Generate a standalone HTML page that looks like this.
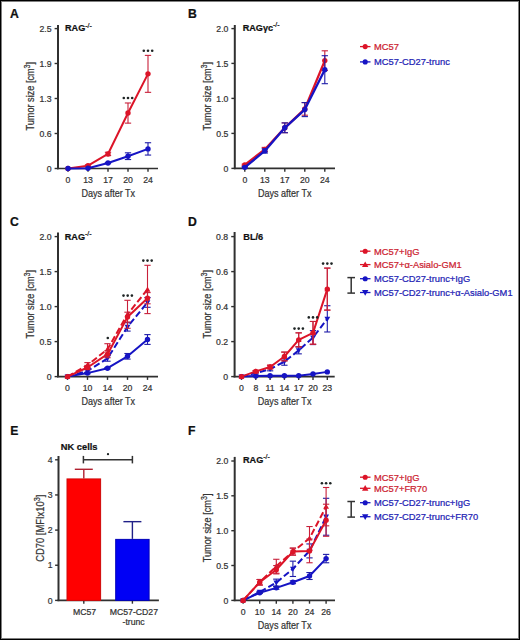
<!DOCTYPE html>
<html><head><meta charset="utf-8"><style>
html,body{margin:0;padding:0;background:#fff;}
#fig{position:relative;width:520px;height:640px;box-sizing:border-box;border-style:solid;border-color:#000;border-width:1px;box-shadow:inset 0 0 0 1px #808080;background:#fff;overflow:hidden;}
text{stroke-width:0.22px;} svg{position:absolute;left:-1px;top:-1px;font-family:"Liberation Sans", sans-serif;}
</style></head><body><div id="fig"><svg width="520" height="640" viewBox="0 0 520 640">
<text x="10.00" y="17.60" font-size="12.2" text-anchor="start" font-weight="bold" fill="#111" stroke="#111" >A</text>
<line x1="58.00" y1="25.00" x2="58.00" y2="169.25" stroke="#303030" stroke-width="2.0" />
<line x1="54.60" y1="168.50" x2="58.00" y2="168.50" stroke="#303030" stroke-width="1.4" />
<text x="51.60" y="171.60" font-size="8.7" text-anchor="end" font-weight="normal" fill="#333" stroke="#333" >0</text>
<line x1="54.60" y1="133.50" x2="58.00" y2="133.50" stroke="#303030" stroke-width="1.4" />
<text x="51.60" y="136.60" font-size="8.7" text-anchor="end" font-weight="normal" fill="#333" stroke="#333" >0.6</text>
<line x1="54.60" y1="98.50" x2="58.00" y2="98.50" stroke="#303030" stroke-width="1.4" />
<text x="51.60" y="101.60" font-size="8.7" text-anchor="end" font-weight="normal" fill="#333" stroke="#333" >1.3</text>
<line x1="54.60" y1="63.50" x2="58.00" y2="63.50" stroke="#303030" stroke-width="1.4" />
<text x="51.60" y="66.60" font-size="8.7" text-anchor="end" font-weight="normal" fill="#333" stroke="#333" >1.9</text>
<line x1="54.60" y1="28.60" x2="58.00" y2="28.60" stroke="#303030" stroke-width="1.4" />
<text x="51.60" y="31.70" font-size="8.7" text-anchor="end" font-weight="normal" fill="#333" stroke="#333" >2.5</text>
<line x1="57.00" y1="168.50" x2="158.00" y2="168.50" stroke="#303030" stroke-width="1.6" />
<line x1="68.00" y1="168.50" x2="68.00" y2="171.80" stroke="#303030" stroke-width="1.4" />
<text x="68.00" y="183.20" font-size="8.7" text-anchor="middle" font-weight="normal" fill="#333" stroke="#333" >0</text>
<line x1="88.00" y1="168.50" x2="88.00" y2="171.80" stroke="#303030" stroke-width="1.4" />
<text x="88.00" y="183.20" font-size="8.7" text-anchor="middle" font-weight="normal" fill="#333" stroke="#333" >13</text>
<line x1="108.00" y1="168.50" x2="108.00" y2="171.80" stroke="#303030" stroke-width="1.4" />
<text x="108.00" y="183.20" font-size="8.7" text-anchor="middle" font-weight="normal" fill="#333" stroke="#333" >17</text>
<line x1="128.00" y1="168.50" x2="128.00" y2="171.80" stroke="#303030" stroke-width="1.4" />
<text x="128.00" y="183.20" font-size="8.7" text-anchor="middle" font-weight="normal" fill="#333" stroke="#333" >20</text>
<line x1="148.00" y1="168.50" x2="148.00" y2="171.80" stroke="#303030" stroke-width="1.4" />
<text x="148.00" y="183.20" font-size="8.7" text-anchor="middle" font-weight="normal" fill="#333" stroke="#333" >24</text>
<text transform="translate(33.70,96.20) rotate(-90)" x="0" y="0" font-size="10.6" text-anchor="middle" fill="#333" stroke="#333" textLength="68.6" lengthAdjust="spacingAndGlyphs">Tumor size [cm<tspan font-size="8.2" dy="-3.8">3</tspan><tspan dy="3.8">]</tspan></text>
<text x="108.30" y="197.10" font-size="10.6" text-anchor="middle" fill="#333" stroke="#333" textLength="53.6" lengthAdjust="spacingAndGlyphs">Days after Tx</text>
<text x="65.00" y="31.40" font-size="9.1" font-weight="bold" fill="#111" stroke="#111">RAG<tspan font-size="7" dy="-3.9" font-weight="normal">-/-</tspan></text>
<line x1="88.00" y1="166.54" x2="88.00" y2="164.86" stroke="#c8203a" stroke-width="1.1" />
<line x1="84.85" y1="166.54" x2="91.15" y2="166.54" stroke="#c8203a" stroke-width="1.1" />
<line x1="84.85" y1="164.86" x2="91.15" y2="164.86" stroke="#c8203a" stroke-width="1.1" />
<line x1="108.00" y1="155.62" x2="108.00" y2="152.26" stroke="#c8203a" stroke-width="1.1" />
<line x1="104.85" y1="155.62" x2="111.15" y2="155.62" stroke="#c8203a" stroke-width="1.1" />
<line x1="104.85" y1="152.26" x2="111.15" y2="152.26" stroke="#c8203a" stroke-width="1.1" />
<line x1="128.00" y1="123.14" x2="128.00" y2="102.98" stroke="#c8203a" stroke-width="1.1" />
<line x1="124.85" y1="123.14" x2="131.15" y2="123.14" stroke="#c8203a" stroke-width="1.1" />
<line x1="124.85" y1="102.98" x2="131.15" y2="102.98" stroke="#c8203a" stroke-width="1.1" />
<line x1="148.00" y1="92.34" x2="148.00" y2="55.38" stroke="#c8203a" stroke-width="1.1" />
<line x1="144.85" y1="92.34" x2="151.15" y2="92.34" stroke="#c8203a" stroke-width="1.1" />
<line x1="144.85" y1="55.38" x2="151.15" y2="55.38" stroke="#c8203a" stroke-width="1.1" />
<polyline points="68.00,168.50 88.00,165.70 108.00,153.94 128.00,113.06 148.00,73.86" fill="none" stroke="#dc1428" stroke-width="2.0" stroke-linejoin="round"/>
<circle cx="68.00" cy="168.50" r="2.70" fill="#dc1428"/>
<circle cx="88.00" cy="165.70" r="2.70" fill="#dc1428"/>
<circle cx="108.00" cy="153.94" r="2.70" fill="#dc1428"/>
<circle cx="128.00" cy="113.06" r="2.70" fill="#dc1428"/>
<circle cx="148.00" cy="73.86" r="2.70" fill="#dc1428"/>
<line x1="108.00" y1="163.63" x2="108.00" y2="162.51" stroke="#1e1ca8" stroke-width="1.1" />
<line x1="104.85" y1="163.63" x2="111.15" y2="163.63" stroke="#1e1ca8" stroke-width="1.1" />
<line x1="104.85" y1="162.51" x2="111.15" y2="162.51" stroke="#1e1ca8" stroke-width="1.1" />
<line x1="128.00" y1="159.54" x2="128.00" y2="152.82" stroke="#1e1ca8" stroke-width="1.1" />
<line x1="124.85" y1="159.54" x2="131.15" y2="159.54" stroke="#1e1ca8" stroke-width="1.1" />
<line x1="124.85" y1="152.82" x2="131.15" y2="152.82" stroke="#1e1ca8" stroke-width="1.1" />
<line x1="148.00" y1="155.06" x2="148.00" y2="142.74" stroke="#1e1ca8" stroke-width="1.1" />
<line x1="144.85" y1="155.06" x2="151.15" y2="155.06" stroke="#1e1ca8" stroke-width="1.1" />
<line x1="144.85" y1="142.74" x2="151.15" y2="142.74" stroke="#1e1ca8" stroke-width="1.1" />
<polyline points="68.00,168.50 88.00,168.22 108.00,163.07 128.00,156.18 148.00,148.90" fill="none" stroke="#1614c4" stroke-width="2.0" stroke-linejoin="round"/>
<circle cx="68.00" cy="168.50" r="2.70" fill="#1614c4"/>
<circle cx="88.00" cy="168.22" r="2.70" fill="#1614c4"/>
<circle cx="108.00" cy="163.07" r="2.70" fill="#1614c4"/>
<circle cx="128.00" cy="156.18" r="2.70" fill="#1614c4"/>
<circle cx="148.00" cy="148.90" r="2.70" fill="#1614c4"/>
<circle cx="123.80" cy="98.00" r="1.3" fill="#1e2424"/>
<circle cx="128.00" cy="98.00" r="1.3" fill="#1e2424"/>
<circle cx="132.20" cy="98.00" r="1.3" fill="#1e2424"/>
<circle cx="143.80" cy="50.80" r="1.3" fill="#1e2424"/>
<circle cx="148.00" cy="50.80" r="1.3" fill="#1e2424"/>
<circle cx="152.20" cy="50.80" r="1.3" fill="#1e2424"/>
<text x="188.00" y="17.60" font-size="12.2" text-anchor="start" font-weight="bold" fill="#111" stroke="#111" >B</text>
<line x1="234.80" y1="25.00" x2="234.80" y2="169.15" stroke="#303030" stroke-width="2.0" />
<line x1="231.40" y1="168.40" x2="234.80" y2="168.40" stroke="#303030" stroke-width="1.4" />
<text x="228.40" y="171.50" font-size="8.7" text-anchor="end" font-weight="normal" fill="#333" stroke="#333" >0</text>
<line x1="231.40" y1="133.40" x2="234.80" y2="133.40" stroke="#303030" stroke-width="1.4" />
<text x="228.40" y="136.50" font-size="8.7" text-anchor="end" font-weight="normal" fill="#333" stroke="#333" >0.5</text>
<line x1="231.40" y1="98.40" x2="234.80" y2="98.40" stroke="#303030" stroke-width="1.4" />
<text x="228.40" y="101.50" font-size="8.7" text-anchor="end" font-weight="normal" fill="#333" stroke="#333" >1.0</text>
<line x1="231.40" y1="63.40" x2="234.80" y2="63.40" stroke="#303030" stroke-width="1.4" />
<text x="228.40" y="66.50" font-size="8.7" text-anchor="end" font-weight="normal" fill="#333" stroke="#333" >1.5</text>
<line x1="231.40" y1="28.60" x2="234.80" y2="28.60" stroke="#303030" stroke-width="1.4" />
<text x="228.40" y="31.70" font-size="8.7" text-anchor="end" font-weight="normal" fill="#333" stroke="#333" >2.0</text>
<line x1="233.80" y1="168.40" x2="335.00" y2="168.40" stroke="#303030" stroke-width="1.6" />
<line x1="244.80" y1="168.40" x2="244.80" y2="171.70" stroke="#303030" stroke-width="1.4" />
<text x="244.80" y="183.20" font-size="8.7" text-anchor="middle" font-weight="normal" fill="#333" stroke="#333" >0</text>
<line x1="264.80" y1="168.40" x2="264.80" y2="171.70" stroke="#303030" stroke-width="1.4" />
<text x="264.80" y="183.20" font-size="8.7" text-anchor="middle" font-weight="normal" fill="#333" stroke="#333" >13</text>
<line x1="284.80" y1="168.40" x2="284.80" y2="171.70" stroke="#303030" stroke-width="1.4" />
<text x="284.80" y="183.20" font-size="8.7" text-anchor="middle" font-weight="normal" fill="#333" stroke="#333" >17</text>
<line x1="304.80" y1="168.40" x2="304.80" y2="171.70" stroke="#303030" stroke-width="1.4" />
<text x="304.80" y="183.20" font-size="8.7" text-anchor="middle" font-weight="normal" fill="#333" stroke="#333" >20</text>
<line x1="324.80" y1="168.40" x2="324.80" y2="171.70" stroke="#303030" stroke-width="1.4" />
<text x="324.80" y="183.20" font-size="8.7" text-anchor="middle" font-weight="normal" fill="#333" stroke="#333" >24</text>
<text transform="translate(210.50,96.20) rotate(-90)" x="0" y="0" font-size="10.6" text-anchor="middle" fill="#333" stroke="#333" textLength="68.6" lengthAdjust="spacingAndGlyphs">Tumor size [cm<tspan font-size="8.2" dy="-3.8">3</tspan><tspan dy="3.8">]</tspan></text>
<text x="284.70" y="197.10" font-size="10.6" text-anchor="middle" fill="#333" stroke="#333" textLength="53.6" lengthAdjust="spacingAndGlyphs">Days after Tx</text>
<text x="242.70" y="30.70" font-size="9.1" font-weight="bold" fill="#111" stroke="#111">RAG&#947;c<tspan font-size="7" dy="-3.9" font-weight="normal">-/-</tspan></text>
<line x1="244.80" y1="165.60" x2="244.80" y2="164.20" stroke="#c8203a" stroke-width="1.1" />
<line x1="241.65" y1="165.60" x2="247.95" y2="165.60" stroke="#c8203a" stroke-width="1.1" />
<line x1="241.65" y1="164.20" x2="247.95" y2="164.20" stroke="#c8203a" stroke-width="1.1" />
<line x1="264.80" y1="151.60" x2="264.80" y2="147.40" stroke="#c8203a" stroke-width="1.1" />
<line x1="261.65" y1="151.60" x2="267.95" y2="151.60" stroke="#c8203a" stroke-width="1.1" />
<line x1="261.65" y1="147.40" x2="267.95" y2="147.40" stroke="#c8203a" stroke-width="1.1" />
<line x1="284.80" y1="132.70" x2="284.80" y2="122.90" stroke="#c8203a" stroke-width="1.1" />
<line x1="281.65" y1="132.70" x2="287.95" y2="132.70" stroke="#c8203a" stroke-width="1.1" />
<line x1="281.65" y1="122.90" x2="287.95" y2="122.90" stroke="#c8203a" stroke-width="1.1" />
<line x1="304.80" y1="115.20" x2="304.80" y2="102.60" stroke="#c8203a" stroke-width="1.1" />
<line x1="301.65" y1="115.20" x2="307.95" y2="115.20" stroke="#c8203a" stroke-width="1.1" />
<line x1="301.65" y1="102.60" x2="307.95" y2="102.60" stroke="#c8203a" stroke-width="1.1" />
<line x1="324.80" y1="70.40" x2="324.80" y2="50.80" stroke="#c8203a" stroke-width="1.1" />
<line x1="321.65" y1="70.40" x2="327.95" y2="70.40" stroke="#c8203a" stroke-width="1.1" />
<line x1="321.65" y1="50.80" x2="327.95" y2="50.80" stroke="#c8203a" stroke-width="1.1" />
<polyline points="244.80,164.90 264.80,149.50 284.80,127.80 304.80,108.90 324.80,60.60" fill="none" stroke="#dc1428" stroke-width="2.3" stroke-linejoin="round"/>
<circle cx="244.80" cy="164.90" r="2.70" fill="#dc1428"/>
<circle cx="264.80" cy="149.50" r="2.70" fill="#dc1428"/>
<circle cx="284.80" cy="127.80" r="2.70" fill="#dc1428"/>
<circle cx="304.80" cy="108.90" r="2.70" fill="#dc1428"/>
<circle cx="324.80" cy="60.60" r="2.70" fill="#dc1428"/>
<line x1="244.80" y1="168.05" x2="244.80" y2="166.65" stroke="#1e1ca8" stroke-width="1.1" />
<line x1="241.65" y1="168.05" x2="247.95" y2="168.05" stroke="#1e1ca8" stroke-width="1.1" />
<line x1="241.65" y1="166.65" x2="247.95" y2="166.65" stroke="#1e1ca8" stroke-width="1.1" />
<line x1="264.80" y1="153.00" x2="264.80" y2="148.80" stroke="#1e1ca8" stroke-width="1.1" />
<line x1="261.65" y1="153.00" x2="267.95" y2="153.00" stroke="#1e1ca8" stroke-width="1.1" />
<line x1="261.65" y1="148.80" x2="267.95" y2="148.80" stroke="#1e1ca8" stroke-width="1.1" />
<line x1="284.80" y1="132.70" x2="284.80" y2="122.90" stroke="#1e1ca8" stroke-width="1.1" />
<line x1="281.65" y1="132.70" x2="287.95" y2="132.70" stroke="#1e1ca8" stroke-width="1.1" />
<line x1="281.65" y1="122.90" x2="287.95" y2="122.90" stroke="#1e1ca8" stroke-width="1.1" />
<line x1="304.80" y1="116.60" x2="304.80" y2="102.60" stroke="#1e1ca8" stroke-width="1.1" />
<line x1="301.65" y1="116.60" x2="307.95" y2="116.60" stroke="#1e1ca8" stroke-width="1.1" />
<line x1="301.65" y1="102.60" x2="307.95" y2="102.60" stroke="#1e1ca8" stroke-width="1.1" />
<line x1="324.80" y1="83.70" x2="324.80" y2="55.70" stroke="#1e1ca8" stroke-width="1.1" />
<line x1="321.65" y1="83.70" x2="327.95" y2="83.70" stroke="#1e1ca8" stroke-width="1.1" />
<line x1="321.65" y1="55.70" x2="327.95" y2="55.70" stroke="#1e1ca8" stroke-width="1.1" />
<polyline points="244.80,167.35 264.80,150.90 284.80,127.80 304.80,109.60 324.80,69.70" fill="none" stroke="#1614c4" stroke-width="2.3" stroke-linejoin="round"/>
<circle cx="244.80" cy="167.35" r="2.70" fill="#1614c4"/>
<circle cx="264.80" cy="150.90" r="2.70" fill="#1614c4"/>
<circle cx="284.80" cy="127.80" r="2.70" fill="#1614c4"/>
<circle cx="304.80" cy="109.60" r="2.70" fill="#1614c4"/>
<circle cx="324.80" cy="69.70" r="2.70" fill="#1614c4"/>
<line x1="360.00" y1="46.60" x2="370.50" y2="46.60" stroke="#dc1428" stroke-width="1.3" />
<circle cx="365.20" cy="46.60" r="2.56" fill="#dc1428"/>
<text x="374.00" y="49.90" font-size="9.35" text-anchor="start" font-weight="normal" fill="#cc2230" stroke="#cc2230" >MC57</text>
<line x1="360.00" y1="61.90" x2="370.50" y2="61.90" stroke="#1614c4" stroke-width="1.3" />
<circle cx="365.20" cy="61.90" r="2.56" fill="#1614c4"/>
<text x="374.00" y="65.20" font-size="9.35" text-anchor="start" font-weight="normal" fill="#2222b4" stroke="#2222b4" >MC57-CD27-trunc</text>
<text x="10.00" y="225.80" font-size="12.2" text-anchor="start" font-weight="bold" fill="#111" stroke="#111" >C</text>
<line x1="58.00" y1="232.60" x2="58.00" y2="377.35" stroke="#303030" stroke-width="2.0" />
<line x1="54.60" y1="376.60" x2="58.00" y2="376.60" stroke="#303030" stroke-width="1.4" />
<text x="51.60" y="379.70" font-size="8.7" text-anchor="end" font-weight="normal" fill="#333" stroke="#333" >0</text>
<line x1="54.60" y1="341.60" x2="58.00" y2="341.60" stroke="#303030" stroke-width="1.4" />
<text x="51.60" y="344.70" font-size="8.7" text-anchor="end" font-weight="normal" fill="#333" stroke="#333" >0.5</text>
<line x1="54.60" y1="306.60" x2="58.00" y2="306.60" stroke="#303030" stroke-width="1.4" />
<text x="51.60" y="309.70" font-size="8.7" text-anchor="end" font-weight="normal" fill="#333" stroke="#333" >1.0</text>
<line x1="54.60" y1="271.60" x2="58.00" y2="271.60" stroke="#303030" stroke-width="1.4" />
<text x="51.60" y="274.70" font-size="8.7" text-anchor="end" font-weight="normal" fill="#333" stroke="#333" >1.5</text>
<line x1="54.60" y1="236.60" x2="58.00" y2="236.60" stroke="#303030" stroke-width="1.4" />
<text x="51.60" y="239.70" font-size="8.7" text-anchor="end" font-weight="normal" fill="#333" stroke="#333" >2.0</text>
<line x1="57.00" y1="376.60" x2="158.00" y2="376.60" stroke="#303030" stroke-width="1.6" />
<line x1="67.50" y1="376.60" x2="67.50" y2="379.90" stroke="#303030" stroke-width="1.4" />
<text x="67.50" y="391.30" font-size="8.7" text-anchor="middle" font-weight="normal" fill="#333" stroke="#333" >0</text>
<line x1="87.50" y1="376.60" x2="87.50" y2="379.90" stroke="#303030" stroke-width="1.4" />
<text x="87.50" y="391.30" font-size="8.7" text-anchor="middle" font-weight="normal" fill="#333" stroke="#333" >10</text>
<line x1="107.50" y1="376.60" x2="107.50" y2="379.90" stroke="#303030" stroke-width="1.4" />
<text x="107.50" y="391.30" font-size="8.7" text-anchor="middle" font-weight="normal" fill="#333" stroke="#333" >14</text>
<line x1="127.50" y1="376.60" x2="127.50" y2="379.90" stroke="#303030" stroke-width="1.4" />
<text x="127.50" y="391.30" font-size="8.7" text-anchor="middle" font-weight="normal" fill="#333" stroke="#333" >20</text>
<line x1="147.50" y1="376.60" x2="147.50" y2="379.90" stroke="#303030" stroke-width="1.4" />
<text x="147.50" y="391.30" font-size="8.7" text-anchor="middle" font-weight="normal" fill="#333" stroke="#333" >24</text>
<text transform="translate(33.70,304.20) rotate(-90)" x="0" y="0" font-size="10.6" text-anchor="middle" fill="#333" stroke="#333" textLength="68.6" lengthAdjust="spacingAndGlyphs">Tumor size [cm<tspan font-size="8.2" dy="-3.8">3</tspan><tspan dy="3.8">]</tspan></text>
<text x="108.30" y="405.40" font-size="10.6" text-anchor="middle" fill="#333" stroke="#333" textLength="53.6" lengthAdjust="spacingAndGlyphs">Days after Tx</text>
<text x="64.80" y="239.60" font-size="9.1" font-weight="bold" fill="#111" stroke="#111">RAG<tspan font-size="7" dy="-3.9" font-weight="normal">-/-</tspan></text>
<line x1="87.50" y1="372.40" x2="87.50" y2="369.60" stroke="#1e1ca8" stroke-width="1.1" />
<line x1="84.35" y1="372.40" x2="90.65" y2="372.40" stroke="#1e1ca8" stroke-width="1.1" />
<line x1="84.35" y1="369.60" x2="90.65" y2="369.60" stroke="#1e1ca8" stroke-width="1.1" />
<line x1="107.50" y1="361.20" x2="107.50" y2="355.60" stroke="#1e1ca8" stroke-width="1.1" />
<line x1="104.35" y1="361.20" x2="110.65" y2="361.20" stroke="#1e1ca8" stroke-width="1.1" />
<line x1="104.35" y1="355.60" x2="110.65" y2="355.60" stroke="#1e1ca8" stroke-width="1.1" />
<line x1="127.50" y1="331.10" x2="127.50" y2="322.70" stroke="#1e1ca8" stroke-width="1.1" />
<line x1="124.35" y1="331.10" x2="130.65" y2="331.10" stroke="#1e1ca8" stroke-width="1.1" />
<line x1="124.35" y1="322.70" x2="130.65" y2="322.70" stroke="#1e1ca8" stroke-width="1.1" />
<line x1="147.50" y1="307.30" x2="147.50" y2="297.50" stroke="#1e1ca8" stroke-width="1.1" />
<line x1="144.35" y1="307.30" x2="150.65" y2="307.30" stroke="#1e1ca8" stroke-width="1.1" />
<line x1="144.35" y1="297.50" x2="150.65" y2="297.50" stroke="#1e1ca8" stroke-width="1.1" />
<polyline points="67.50,376.60 87.50,371.00 107.50,358.40 127.50,326.90 147.50,302.40" fill="none" stroke="#1614c4" stroke-width="2.0" stroke-linejoin="round" stroke-dasharray="6.5,3"/>
<polygon points="67.50,379.50 70.40,374.43 64.60,374.43" fill="#1614c4"/>
<polygon points="87.50,373.90 90.40,368.82 84.60,368.82" fill="#1614c4"/>
<polygon points="107.50,361.30 110.40,356.23 104.60,356.23" fill="#1614c4"/>
<polygon points="127.50,329.80 130.40,324.73 124.60,324.73" fill="#1614c4"/>
<polygon points="147.50,305.30 150.40,300.23 144.60,300.23" fill="#1614c4"/>
<line x1="87.50" y1="373.80" x2="87.50" y2="372.40" stroke="#1e1ca8" stroke-width="1.1" />
<line x1="84.35" y1="373.80" x2="90.65" y2="373.80" stroke="#1e1ca8" stroke-width="1.1" />
<line x1="84.35" y1="372.40" x2="90.65" y2="372.40" stroke="#1e1ca8" stroke-width="1.1" />
<line x1="107.50" y1="368.90" x2="107.50" y2="367.50" stroke="#1e1ca8" stroke-width="1.1" />
<line x1="104.35" y1="368.90" x2="110.65" y2="368.90" stroke="#1e1ca8" stroke-width="1.1" />
<line x1="104.35" y1="367.50" x2="110.65" y2="367.50" stroke="#1e1ca8" stroke-width="1.1" />
<line x1="127.50" y1="359.10" x2="127.50" y2="353.50" stroke="#1e1ca8" stroke-width="1.1" />
<line x1="124.35" y1="359.10" x2="130.65" y2="359.10" stroke="#1e1ca8" stroke-width="1.1" />
<line x1="124.35" y1="353.50" x2="130.65" y2="353.50" stroke="#1e1ca8" stroke-width="1.1" />
<line x1="147.50" y1="344.40" x2="147.50" y2="334.60" stroke="#1e1ca8" stroke-width="1.1" />
<line x1="144.35" y1="344.40" x2="150.65" y2="344.40" stroke="#1e1ca8" stroke-width="1.1" />
<line x1="144.35" y1="334.60" x2="150.65" y2="334.60" stroke="#1e1ca8" stroke-width="1.1" />
<polyline points="67.50,376.60 87.50,373.10 107.50,368.20 127.50,356.30 147.50,339.50" fill="none" stroke="#1614c4" stroke-width="2.0" stroke-linejoin="round"/>
<circle cx="67.50" cy="376.60" r="2.70" fill="#1614c4"/>
<circle cx="87.50" cy="373.10" r="2.70" fill="#1614c4"/>
<circle cx="107.50" cy="368.20" r="2.70" fill="#1614c4"/>
<circle cx="127.50" cy="356.30" r="2.70" fill="#1614c4"/>
<circle cx="147.50" cy="339.50" r="2.70" fill="#1614c4"/>
<line x1="87.50" y1="367.50" x2="87.50" y2="362.60" stroke="#c8203a" stroke-width="1.1" />
<line x1="84.35" y1="367.50" x2="90.65" y2="367.50" stroke="#c8203a" stroke-width="1.1" />
<line x1="84.35" y1="362.60" x2="90.65" y2="362.60" stroke="#c8203a" stroke-width="1.1" />
<line x1="107.50" y1="354.90" x2="107.50" y2="343.70" stroke="#c8203a" stroke-width="1.1" />
<line x1="104.35" y1="354.90" x2="110.65" y2="354.90" stroke="#c8203a" stroke-width="1.1" />
<line x1="104.35" y1="343.70" x2="110.65" y2="343.70" stroke="#c8203a" stroke-width="1.1" />
<line x1="127.50" y1="328.30" x2="127.50" y2="300.30" stroke="#c8203a" stroke-width="1.1" />
<line x1="124.35" y1="328.30" x2="130.65" y2="328.30" stroke="#c8203a" stroke-width="1.1" />
<line x1="124.35" y1="300.30" x2="130.65" y2="300.30" stroke="#c8203a" stroke-width="1.1" />
<line x1="147.50" y1="313.60" x2="147.50" y2="265.30" stroke="#c8203a" stroke-width="1.1" />
<line x1="144.35" y1="313.60" x2="150.65" y2="313.60" stroke="#c8203a" stroke-width="1.1" />
<line x1="144.35" y1="265.30" x2="150.65" y2="265.30" stroke="#c8203a" stroke-width="1.1" />
<polyline points="67.50,376.60 87.50,365.05 107.50,349.30 127.50,314.30 147.50,289.45" fill="none" stroke="#dc1428" stroke-width="2.0" stroke-linejoin="round" stroke-dasharray="6.5,3"/>
<polygon points="67.50,373.70 70.40,378.78 64.60,378.78" fill="#dc1428"/>
<polygon points="87.50,362.15 90.40,367.23 84.60,367.23" fill="#dc1428"/>
<polygon points="107.50,346.40 110.40,351.48 104.60,351.48" fill="#dc1428"/>
<polygon points="127.50,311.40 130.40,316.48 124.60,316.48" fill="#dc1428"/>
<polygon points="147.50,286.55 150.40,291.63 144.60,291.63" fill="#dc1428"/>
<line x1="87.50" y1="369.60" x2="87.50" y2="365.40" stroke="#c8203a" stroke-width="1.1" />
<line x1="84.35" y1="369.60" x2="90.65" y2="369.60" stroke="#c8203a" stroke-width="1.1" />
<line x1="84.35" y1="365.40" x2="90.65" y2="365.40" stroke="#c8203a" stroke-width="1.1" />
<line x1="107.50" y1="357.70" x2="107.50" y2="350.70" stroke="#c8203a" stroke-width="1.1" />
<line x1="104.35" y1="357.70" x2="110.65" y2="357.70" stroke="#c8203a" stroke-width="1.1" />
<line x1="104.35" y1="350.70" x2="110.65" y2="350.70" stroke="#c8203a" stroke-width="1.1" />
<line x1="127.50" y1="322.00" x2="127.50" y2="312.20" stroke="#c8203a" stroke-width="1.1" />
<line x1="124.35" y1="322.00" x2="130.65" y2="322.00" stroke="#c8203a" stroke-width="1.1" />
<line x1="124.35" y1="312.20" x2="130.65" y2="312.20" stroke="#c8203a" stroke-width="1.1" />
<line x1="147.50" y1="303.80" x2="147.50" y2="292.60" stroke="#c8203a" stroke-width="1.1" />
<line x1="144.35" y1="303.80" x2="150.65" y2="303.80" stroke="#c8203a" stroke-width="1.1" />
<line x1="144.35" y1="292.60" x2="150.65" y2="292.60" stroke="#c8203a" stroke-width="1.1" />
<polyline points="67.50,376.60 87.50,367.50 107.50,354.20 127.50,317.10 147.50,298.20" fill="none" stroke="#dc1428" stroke-width="2.0" stroke-linejoin="round"/>
<circle cx="67.50" cy="376.60" r="2.70" fill="#dc1428"/>
<circle cx="87.50" cy="367.50" r="2.70" fill="#dc1428"/>
<circle cx="107.50" cy="354.20" r="2.70" fill="#dc1428"/>
<circle cx="127.50" cy="317.10" r="2.70" fill="#dc1428"/>
<circle cx="147.50" cy="298.20" r="2.70" fill="#dc1428"/>
<circle cx="107.80" cy="338.00" r="1.3" fill="#1e2424"/>
<circle cx="123.50" cy="295.60" r="1.3" fill="#1e2424"/>
<circle cx="127.70" cy="295.60" r="1.3" fill="#1e2424"/>
<circle cx="131.90" cy="295.60" r="1.3" fill="#1e2424"/>
<circle cx="143.30" cy="260.60" r="1.3" fill="#1e2424"/>
<circle cx="147.50" cy="260.60" r="1.3" fill="#1e2424"/>
<circle cx="151.70" cy="260.60" r="1.3" fill="#1e2424"/>
<text x="188.00" y="225.80" font-size="12.2" text-anchor="start" font-weight="bold" fill="#111" stroke="#111" >D</text>
<line x1="234.60" y1="232.00" x2="234.60" y2="377.35" stroke="#303030" stroke-width="2.0" />
<line x1="231.20" y1="376.60" x2="234.60" y2="376.60" stroke="#303030" stroke-width="1.4" />
<text x="228.20" y="379.70" font-size="8.7" text-anchor="end" font-weight="normal" fill="#333" stroke="#333" >0</text>
<line x1="231.20" y1="341.60" x2="234.60" y2="341.60" stroke="#303030" stroke-width="1.4" />
<text x="228.20" y="344.70" font-size="8.7" text-anchor="end" font-weight="normal" fill="#333" stroke="#333" >0.2</text>
<line x1="231.20" y1="306.60" x2="234.60" y2="306.60" stroke="#303030" stroke-width="1.4" />
<text x="228.20" y="309.70" font-size="8.7" text-anchor="end" font-weight="normal" fill="#333" stroke="#333" >0.4</text>
<line x1="231.20" y1="271.60" x2="234.60" y2="271.60" stroke="#303030" stroke-width="1.4" />
<text x="228.20" y="274.70" font-size="8.7" text-anchor="end" font-weight="normal" fill="#333" stroke="#333" >0.6</text>
<line x1="231.20" y1="236.60" x2="234.60" y2="236.60" stroke="#303030" stroke-width="1.4" />
<text x="228.20" y="239.70" font-size="8.7" text-anchor="end" font-weight="normal" fill="#333" stroke="#333" >0.8</text>
<line x1="233.60" y1="376.60" x2="334.70" y2="376.60" stroke="#303030" stroke-width="1.6" />
<line x1="241.50" y1="376.60" x2="241.50" y2="379.90" stroke="#303030" stroke-width="1.4" />
<text x="241.50" y="391.30" font-size="8.7" text-anchor="middle" font-weight="normal" fill="#333" stroke="#333" >0</text>
<line x1="255.80" y1="376.60" x2="255.80" y2="379.90" stroke="#303030" stroke-width="1.4" />
<text x="255.80" y="391.30" font-size="8.7" text-anchor="middle" font-weight="normal" fill="#333" stroke="#333" >8</text>
<line x1="270.10" y1="376.60" x2="270.10" y2="379.90" stroke="#303030" stroke-width="1.4" />
<text x="270.10" y="391.30" font-size="8.7" text-anchor="middle" font-weight="normal" fill="#333" stroke="#333" >11</text>
<line x1="284.40" y1="376.60" x2="284.40" y2="379.90" stroke="#303030" stroke-width="1.4" />
<text x="284.40" y="391.30" font-size="8.7" text-anchor="middle" font-weight="normal" fill="#333" stroke="#333" >14</text>
<line x1="298.70" y1="376.60" x2="298.70" y2="379.90" stroke="#303030" stroke-width="1.4" />
<text x="298.70" y="391.30" font-size="8.7" text-anchor="middle" font-weight="normal" fill="#333" stroke="#333" >17</text>
<line x1="313.00" y1="376.60" x2="313.00" y2="379.90" stroke="#303030" stroke-width="1.4" />
<text x="313.00" y="391.30" font-size="8.7" text-anchor="middle" font-weight="normal" fill="#333" stroke="#333" >20</text>
<line x1="327.30" y1="376.60" x2="327.30" y2="379.90" stroke="#303030" stroke-width="1.4" />
<text x="327.30" y="391.30" font-size="8.7" text-anchor="middle" font-weight="normal" fill="#333" stroke="#333" >23</text>
<text transform="translate(210.50,304.20) rotate(-90)" x="0" y="0" font-size="10.6" text-anchor="middle" fill="#333" stroke="#333" textLength="68.6" lengthAdjust="spacingAndGlyphs">Tumor size [cm<tspan font-size="8.2" dy="-3.8">3</tspan><tspan dy="3.8">]</tspan></text>
<text x="284.60" y="405.40" font-size="10.6" text-anchor="middle" fill="#333" stroke="#333" textLength="53.6" lengthAdjust="spacingAndGlyphs">Days after Tx</text>
<text x="243.3" y="239.6" font-size="9.2" font-weight="bold" fill="#111" stroke="#111">BL/6</text>
<polyline points="241.50,376.60 255.80,376.08 270.10,375.73 284.40,375.73 298.70,375.73 313.00,373.98 327.30,371.88" fill="none" stroke="#1614c4" stroke-width="2.0" stroke-linejoin="round"/>
<circle cx="241.50" cy="376.60" r="2.70" fill="#1614c4"/>
<circle cx="255.80" cy="376.08" r="2.70" fill="#1614c4"/>
<circle cx="270.10" cy="375.73" r="2.70" fill="#1614c4"/>
<circle cx="284.40" cy="375.73" r="2.70" fill="#1614c4"/>
<circle cx="298.70" cy="375.73" r="2.70" fill="#1614c4"/>
<circle cx="313.00" cy="373.98" r="2.70" fill="#1614c4"/>
<circle cx="327.30" cy="371.88" r="2.70" fill="#1614c4"/>
<line x1="255.80" y1="373.98" x2="255.80" y2="372.23" stroke="#1e1ca8" stroke-width="1.1" />
<line x1="252.65" y1="373.98" x2="258.95" y2="373.98" stroke="#1e1ca8" stroke-width="1.1" />
<line x1="252.65" y1="372.23" x2="258.95" y2="372.23" stroke="#1e1ca8" stroke-width="1.1" />
<line x1="270.10" y1="370.83" x2="270.10" y2="367.33" stroke="#1e1ca8" stroke-width="1.1" />
<line x1="266.95" y1="370.83" x2="273.25" y2="370.83" stroke="#1e1ca8" stroke-width="1.1" />
<line x1="266.95" y1="367.33" x2="273.25" y2="367.33" stroke="#1e1ca8" stroke-width="1.1" />
<line x1="284.40" y1="365.23" x2="284.40" y2="358.23" stroke="#1e1ca8" stroke-width="1.1" />
<line x1="281.25" y1="365.23" x2="287.55" y2="365.23" stroke="#1e1ca8" stroke-width="1.1" />
<line x1="281.25" y1="358.23" x2="287.55" y2="358.23" stroke="#1e1ca8" stroke-width="1.1" />
<line x1="298.70" y1="353.85" x2="298.70" y2="346.85" stroke="#1e1ca8" stroke-width="1.1" />
<line x1="295.55" y1="353.85" x2="301.85" y2="353.85" stroke="#1e1ca8" stroke-width="1.1" />
<line x1="295.55" y1="346.85" x2="301.85" y2="346.85" stroke="#1e1ca8" stroke-width="1.1" />
<line x1="313.00" y1="344.58" x2="313.00" y2="330.58" stroke="#1e1ca8" stroke-width="1.1" />
<line x1="309.85" y1="344.58" x2="316.15" y2="344.58" stroke="#1e1ca8" stroke-width="1.1" />
<line x1="309.85" y1="330.58" x2="316.15" y2="330.58" stroke="#1e1ca8" stroke-width="1.1" />
<line x1="327.30" y1="331.98" x2="327.30" y2="305.73" stroke="#1e1ca8" stroke-width="1.1" />
<line x1="324.15" y1="331.98" x2="330.45" y2="331.98" stroke="#1e1ca8" stroke-width="1.1" />
<line x1="324.15" y1="305.73" x2="330.45" y2="305.73" stroke="#1e1ca8" stroke-width="1.1" />
<polyline points="241.50,376.60 255.80,373.10 270.10,369.08 284.40,361.73 298.70,350.35 313.00,337.58 327.30,318.85" fill="none" stroke="#1614c4" stroke-width="2.0" stroke-linejoin="round" stroke-dasharray="6.5,3"/>
<polygon points="241.50,379.50 244.40,374.43 238.60,374.43" fill="#1614c4"/>
<polygon points="255.80,376.00 258.70,370.93 252.90,370.93" fill="#1614c4"/>
<polygon points="270.10,371.98 273.00,366.90 267.20,366.90" fill="#1614c4"/>
<polygon points="284.40,364.62 287.30,359.55 281.50,359.55" fill="#1614c4"/>
<polygon points="298.70,353.25 301.60,348.18 295.80,348.18" fill="#1614c4"/>
<polygon points="313.00,340.48 315.90,335.40 310.10,335.40" fill="#1614c4"/>
<polygon points="327.30,321.75 330.20,316.68 324.40,316.68" fill="#1614c4"/>
<line x1="255.80" y1="372.23" x2="255.80" y2="370.48" stroke="#c8203a" stroke-width="1.1" />
<line x1="252.65" y1="372.23" x2="258.95" y2="372.23" stroke="#c8203a" stroke-width="1.1" />
<line x1="252.65" y1="370.48" x2="258.95" y2="370.48" stroke="#c8203a" stroke-width="1.1" />
<line x1="270.10" y1="368.73" x2="270.10" y2="365.23" stroke="#c8203a" stroke-width="1.1" />
<line x1="266.95" y1="368.73" x2="273.25" y2="368.73" stroke="#c8203a" stroke-width="1.1" />
<line x1="266.95" y1="365.23" x2="273.25" y2="365.23" stroke="#c8203a" stroke-width="1.1" />
<line x1="284.40" y1="360.85" x2="284.40" y2="352.10" stroke="#c8203a" stroke-width="1.1" />
<line x1="281.25" y1="360.85" x2="287.55" y2="360.85" stroke="#c8203a" stroke-width="1.1" />
<line x1="281.25" y1="352.10" x2="287.55" y2="352.10" stroke="#c8203a" stroke-width="1.1" />
<line x1="298.70" y1="346.85" x2="298.70" y2="332.85" stroke="#c8203a" stroke-width="1.1" />
<line x1="295.55" y1="346.85" x2="301.85" y2="346.85" stroke="#c8203a" stroke-width="1.1" />
<line x1="295.55" y1="332.85" x2="301.85" y2="332.85" stroke="#c8203a" stroke-width="1.1" />
<line x1="313.00" y1="344.23" x2="313.00" y2="321.48" stroke="#c8203a" stroke-width="1.1" />
<line x1="309.85" y1="344.23" x2="316.15" y2="344.23" stroke="#c8203a" stroke-width="1.1" />
<line x1="309.85" y1="321.48" x2="316.15" y2="321.48" stroke="#c8203a" stroke-width="1.1" />
<line x1="327.30" y1="310.10" x2="327.30" y2="268.10" stroke="#c8203a" stroke-width="1.1" />
<line x1="324.15" y1="310.10" x2="330.45" y2="310.10" stroke="#c8203a" stroke-width="1.1" />
<line x1="324.15" y1="268.10" x2="330.45" y2="268.10" stroke="#c8203a" stroke-width="1.1" />
<polygon points="241.50,373.70 244.40,378.78 238.60,378.78" fill="#dc1428"/>
<polygon points="255.80,368.45 258.70,373.53 252.90,373.53" fill="#dc1428"/>
<polygon points="270.10,364.08 273.00,369.15 267.20,369.15" fill="#dc1428"/>
<polygon points="284.40,353.58 287.30,358.65 281.50,358.65" fill="#dc1428"/>
<polygon points="298.70,336.95 301.60,342.03 295.80,342.03" fill="#dc1428"/>
<polygon points="313.00,329.95 315.90,335.03 310.10,335.03" fill="#dc1428"/>
<polygon points="327.30,286.20 330.20,291.28 324.40,291.28" fill="#dc1428"/>
<line x1="255.80" y1="372.23" x2="255.80" y2="370.48" stroke="#c8203a" stroke-width="1.1" />
<line x1="252.65" y1="372.23" x2="258.95" y2="372.23" stroke="#c8203a" stroke-width="1.1" />
<line x1="252.65" y1="370.48" x2="258.95" y2="370.48" stroke="#c8203a" stroke-width="1.1" />
<line x1="270.10" y1="368.73" x2="270.10" y2="365.23" stroke="#c8203a" stroke-width="1.1" />
<line x1="266.95" y1="368.73" x2="273.25" y2="368.73" stroke="#c8203a" stroke-width="1.1" />
<line x1="266.95" y1="365.23" x2="273.25" y2="365.23" stroke="#c8203a" stroke-width="1.1" />
<line x1="284.40" y1="360.85" x2="284.40" y2="352.10" stroke="#c8203a" stroke-width="1.1" />
<line x1="281.25" y1="360.85" x2="287.55" y2="360.85" stroke="#c8203a" stroke-width="1.1" />
<line x1="281.25" y1="352.10" x2="287.55" y2="352.10" stroke="#c8203a" stroke-width="1.1" />
<line x1="298.70" y1="346.85" x2="298.70" y2="332.85" stroke="#c8203a" stroke-width="1.1" />
<line x1="295.55" y1="346.85" x2="301.85" y2="346.85" stroke="#c8203a" stroke-width="1.1" />
<line x1="295.55" y1="332.85" x2="301.85" y2="332.85" stroke="#c8203a" stroke-width="1.1" />
<line x1="313.00" y1="344.23" x2="313.00" y2="321.48" stroke="#c8203a" stroke-width="1.1" />
<line x1="309.85" y1="344.23" x2="316.15" y2="344.23" stroke="#c8203a" stroke-width="1.1" />
<line x1="309.85" y1="321.48" x2="316.15" y2="321.48" stroke="#c8203a" stroke-width="1.1" />
<line x1="327.30" y1="310.10" x2="327.30" y2="268.10" stroke="#c8203a" stroke-width="1.1" />
<line x1="324.15" y1="310.10" x2="330.45" y2="310.10" stroke="#c8203a" stroke-width="1.1" />
<line x1="324.15" y1="268.10" x2="330.45" y2="268.10" stroke="#c8203a" stroke-width="1.1" />
<polyline points="241.50,376.60 255.80,371.35 270.10,366.98 284.40,356.48 298.70,339.85 313.00,332.85 327.30,289.10" fill="none" stroke="#dc1428" stroke-width="2.0" stroke-linejoin="round"/>
<circle cx="241.50" cy="376.60" r="2.70" fill="#dc1428"/>
<circle cx="255.80" cy="371.35" r="2.70" fill="#dc1428"/>
<circle cx="270.10" cy="366.98" r="2.70" fill="#dc1428"/>
<circle cx="284.40" cy="356.48" r="2.70" fill="#dc1428"/>
<circle cx="298.70" cy="339.85" r="2.70" fill="#dc1428"/>
<circle cx="313.00" cy="332.85" r="2.70" fill="#dc1428"/>
<circle cx="327.30" cy="289.10" r="2.70" fill="#dc1428"/>
<circle cx="294.50" cy="328.60" r="1.3" fill="#1e2424"/>
<circle cx="298.70" cy="328.60" r="1.3" fill="#1e2424"/>
<circle cx="302.90" cy="328.60" r="1.3" fill="#1e2424"/>
<circle cx="308.80" cy="317.40" r="1.3" fill="#1e2424"/>
<circle cx="313.00" cy="317.40" r="1.3" fill="#1e2424"/>
<circle cx="317.20" cy="317.40" r="1.3" fill="#1e2424"/>
<circle cx="323.10" cy="263.60" r="1.3" fill="#1e2424"/>
<circle cx="327.30" cy="263.60" r="1.3" fill="#1e2424"/>
<circle cx="331.50" cy="263.60" r="1.3" fill="#1e2424"/>
<line x1="360.00" y1="251.20" x2="370.50" y2="251.20" stroke="#dc1428" stroke-width="1.3" />
<circle cx="365.20" cy="251.20" r="2.56" fill="#dc1428"/>
<text x="374.00" y="254.50" font-size="9.35" text-anchor="start" font-weight="normal" fill="#cc2230" stroke="#cc2230" >MC57+IgG</text>
<line x1="360.00" y1="264.60" x2="370.50" y2="264.60" stroke="#dc1428" stroke-width="1.3" />
<polygon points="365.20,261.41 368.39,266.99 362.01,266.99" fill="#dc1428"/>
<text x="374.00" y="267.90" font-size="9.35" text-anchor="start" font-weight="normal" fill="#cc2230" stroke="#cc2230" >MC57+&#945;-Asialo-GM1</text>
<line x1="360.00" y1="278.70" x2="370.50" y2="278.70" stroke="#1614c4" stroke-width="1.3" />
<circle cx="365.20" cy="278.70" r="2.56" fill="#1614c4"/>
<text x="374.00" y="282.00" font-size="9.35" text-anchor="start" font-weight="normal" fill="#2222b4" stroke="#2222b4" >MC57-CD27-trunc+IgG</text>
<line x1="360.00" y1="292.50" x2="370.50" y2="292.50" stroke="#1614c4" stroke-width="1.3" />
<polygon points="365.20,295.69 368.39,290.11 362.01,290.11" fill="#1614c4"/>
<text x="374.00" y="295.80" font-size="9.35" text-anchor="start" font-weight="normal" fill="#2222b4" stroke="#2222b4" >MC57-CD27-trunc+&#945;-Asialo-GM1</text>
<line x1="351.20" y1="277.60" x2="351.20" y2="293.10" stroke="#333" stroke-width="1.5" />
<line x1="347.40" y1="277.60" x2="355.00" y2="277.60" stroke="#333" stroke-width="1.5" />
<line x1="347.40" y1="293.10" x2="355.00" y2="293.10" stroke="#333" stroke-width="1.5" />
<text x="10.20" y="435.40" font-size="12.2" text-anchor="start" font-weight="bold" fill="#111" stroke="#111" >E</text>
<line x1="58.50" y1="456.00" x2="58.50" y2="601.15" stroke="#303030" stroke-width="2.0" />
<line x1="55.10" y1="600.40" x2="58.50" y2="600.40" stroke="#303030" stroke-width="1.4" />
<text x="52.70" y="603.50" font-size="8.7" text-anchor="end" font-weight="normal" fill="#333" stroke="#333" >0</text>
<line x1="55.10" y1="565.25" x2="58.50" y2="565.25" stroke="#303030" stroke-width="1.4" />
<text x="52.70" y="568.35" font-size="8.7" text-anchor="end" font-weight="normal" fill="#333" stroke="#333" >1</text>
<line x1="55.10" y1="530.10" x2="58.50" y2="530.10" stroke="#303030" stroke-width="1.4" />
<text x="52.70" y="533.20" font-size="8.7" text-anchor="end" font-weight="normal" fill="#333" stroke="#333" >2</text>
<line x1="55.10" y1="494.95" x2="58.50" y2="494.95" stroke="#303030" stroke-width="1.4" />
<text x="52.70" y="498.05" font-size="8.7" text-anchor="end" font-weight="normal" fill="#333" stroke="#333" >3</text>
<line x1="55.10" y1="459.80" x2="58.50" y2="459.80" stroke="#303030" stroke-width="1.4" />
<text x="52.70" y="462.90" font-size="8.7" text-anchor="end" font-weight="normal" fill="#333" stroke="#333" >4</text>
<line x1="57.50" y1="600.40" x2="158.90" y2="600.40" stroke="#303030" stroke-width="1.6" />
<line x1="83.80" y1="600.40" x2="83.80" y2="603.70" stroke="#303030" stroke-width="1.4" />
<line x1="132.40" y1="600.40" x2="132.40" y2="603.70" stroke="#303030" stroke-width="1.4" />
<rect x="67.0" y="478.93" width="33.6" height="121.47" fill="#ff0000" stroke="#d00808" stroke-width="1"/>
<rect x="115.7" y="539.39" width="33.4" height="61.01" fill="#0000f5" stroke="#0000b8" stroke-width="1"/>
<line x1="83.80" y1="478.43" x2="83.80" y2="469.29" stroke="#b02030" stroke-width="1.4" />
<line x1="74.80" y1="469.29" x2="92.80" y2="469.29" stroke="#b02030" stroke-width="1.4" />
<line x1="132.40" y1="538.89" x2="132.40" y2="521.66" stroke="#202088" stroke-width="1.4" />
<line x1="123.40" y1="521.66" x2="141.40" y2="521.66" stroke="#202088" stroke-width="1.4" />
<line x1="83.40" y1="459.70" x2="132.40" y2="459.70" stroke="#333" stroke-width="1.5" />
<line x1="83.40" y1="455.90" x2="83.40" y2="463.40" stroke="#333" stroke-width="1.5" />
<line x1="132.40" y1="455.90" x2="132.40" y2="463.40" stroke="#333" stroke-width="1.5" />
<circle cx="108.00" cy="454.20" r="1.15" fill="#1e2424"/>
<text x="60.8" y="450.1" font-size="9.3" font-weight="bold" fill="#111" stroke="#111">NK cells</text>
<text transform="translate(43.60,528.20) rotate(-90)" x="0" y="0" font-size="10.6" text-anchor="middle" fill="#333" stroke="#333" textLength="67.1" lengthAdjust="spacingAndGlyphs">CD70 [MFIx10<tspan font-size="8.2" dy="-3.8">3</tspan><tspan dy="3.8">]</tspan></text>
<text x="84.50" y="614.60" font-size="8.7" text-anchor="middle" font-weight="normal" fill="#333" stroke="#333" >MC57</text>
<text x="133.90" y="614.60" font-size="8.7" text-anchor="middle" font-weight="normal" fill="#333" stroke="#333" >MC57-CD27</text>
<text x="133.60" y="625.30" font-size="8.7" text-anchor="middle" font-weight="normal" fill="#333" stroke="#333" >-trunc</text>
<text x="188.00" y="435.40" font-size="12.2" text-anchor="start" font-weight="bold" fill="#111" stroke="#111" >F</text>
<line x1="234.70" y1="456.90" x2="234.70" y2="601.15" stroke="#303030" stroke-width="2.0" />
<line x1="231.30" y1="600.40" x2="234.70" y2="600.40" stroke="#303030" stroke-width="1.4" />
<text x="228.30" y="603.50" font-size="8.7" text-anchor="end" font-weight="normal" fill="#333" stroke="#333" >0</text>
<line x1="231.30" y1="565.50" x2="234.70" y2="565.50" stroke="#303030" stroke-width="1.4" />
<text x="228.30" y="568.60" font-size="8.7" text-anchor="end" font-weight="normal" fill="#333" stroke="#333" >0.5</text>
<line x1="231.30" y1="530.70" x2="234.70" y2="530.70" stroke="#303030" stroke-width="1.4" />
<text x="228.30" y="533.80" font-size="8.7" text-anchor="end" font-weight="normal" fill="#333" stroke="#333" >1.0</text>
<line x1="231.30" y1="495.80" x2="234.70" y2="495.80" stroke="#303030" stroke-width="1.4" />
<text x="228.30" y="498.90" font-size="8.7" text-anchor="end" font-weight="normal" fill="#333" stroke="#333" >1.5</text>
<line x1="231.30" y1="461.00" x2="234.70" y2="461.00" stroke="#303030" stroke-width="1.4" />
<text x="228.30" y="464.10" font-size="8.7" text-anchor="end" font-weight="normal" fill="#333" stroke="#333" >2.0</text>
<line x1="233.70" y1="600.40" x2="335.00" y2="600.40" stroke="#303030" stroke-width="1.6" />
<line x1="243.10" y1="600.40" x2="243.10" y2="603.70" stroke="#303030" stroke-width="1.4" />
<text x="243.10" y="615.00" font-size="8.7" text-anchor="middle" font-weight="normal" fill="#333" stroke="#333" >0</text>
<line x1="259.70" y1="600.40" x2="259.70" y2="603.70" stroke="#303030" stroke-width="1.4" />
<text x="259.70" y="615.00" font-size="8.7" text-anchor="middle" font-weight="normal" fill="#333" stroke="#333" >10</text>
<line x1="276.30" y1="600.40" x2="276.30" y2="603.70" stroke="#303030" stroke-width="1.4" />
<text x="276.30" y="615.00" font-size="8.7" text-anchor="middle" font-weight="normal" fill="#333" stroke="#333" >14</text>
<line x1="292.90" y1="600.40" x2="292.90" y2="603.70" stroke="#303030" stroke-width="1.4" />
<text x="292.90" y="615.00" font-size="8.7" text-anchor="middle" font-weight="normal" fill="#333" stroke="#333" >20</text>
<line x1="309.50" y1="600.40" x2="309.50" y2="603.70" stroke="#303030" stroke-width="1.4" />
<text x="309.50" y="615.00" font-size="8.7" text-anchor="middle" font-weight="normal" fill="#333" stroke="#333" >24</text>
<line x1="326.10" y1="600.40" x2="326.10" y2="603.70" stroke="#303030" stroke-width="1.4" />
<text x="326.10" y="615.00" font-size="8.7" text-anchor="middle" font-weight="normal" fill="#333" stroke="#333" >26</text>
<text transform="translate(210.50,527.90) rotate(-90)" x="0" y="0" font-size="10.6" text-anchor="middle" fill="#333" stroke="#333" textLength="68.8" lengthAdjust="spacingAndGlyphs">Tumor size [cm<tspan font-size="8.2" dy="-3.8">3</tspan><tspan dy="3.8">]</tspan></text>
<text x="284.60" y="628.80" font-size="10.6" text-anchor="middle" fill="#333" stroke="#333" textLength="53.6" lengthAdjust="spacingAndGlyphs">Days after Tx</text>
<text x="243.00" y="463.10" font-size="9.1" font-weight="bold" fill="#111" stroke="#111">RAG<tspan font-size="7" dy="-3.9" font-weight="normal">-/-</tspan></text>
<line x1="259.70" y1="593.43" x2="259.70" y2="592.04" stroke="#1e1ca8" stroke-width="1.1" />
<line x1="256.55" y1="593.43" x2="262.85" y2="593.43" stroke="#1e1ca8" stroke-width="1.1" />
<line x1="256.55" y1="592.04" x2="262.85" y2="592.04" stroke="#1e1ca8" stroke-width="1.1" />
<line x1="276.30" y1="589.25" x2="276.30" y2="586.46" stroke="#1e1ca8" stroke-width="1.1" />
<line x1="273.15" y1="589.25" x2="279.45" y2="589.25" stroke="#1e1ca8" stroke-width="1.1" />
<line x1="273.15" y1="586.46" x2="279.45" y2="586.46" stroke="#1e1ca8" stroke-width="1.1" />
<line x1="292.90" y1="583.67" x2="292.90" y2="580.88" stroke="#1e1ca8" stroke-width="1.1" />
<line x1="289.75" y1="583.67" x2="296.05" y2="583.67" stroke="#1e1ca8" stroke-width="1.1" />
<line x1="289.75" y1="580.88" x2="296.05" y2="580.88" stroke="#1e1ca8" stroke-width="1.1" />
<line x1="309.50" y1="579.49" x2="309.50" y2="572.52" stroke="#1e1ca8" stroke-width="1.1" />
<line x1="306.35" y1="579.49" x2="312.65" y2="579.49" stroke="#1e1ca8" stroke-width="1.1" />
<line x1="306.35" y1="572.52" x2="312.65" y2="572.52" stroke="#1e1ca8" stroke-width="1.1" />
<line x1="326.10" y1="562.76" x2="326.10" y2="554.40" stroke="#1e1ca8" stroke-width="1.1" />
<line x1="322.95" y1="562.76" x2="329.25" y2="562.76" stroke="#1e1ca8" stroke-width="1.1" />
<line x1="322.95" y1="554.40" x2="329.25" y2="554.40" stroke="#1e1ca8" stroke-width="1.1" />
<polyline points="243.10,600.40 259.70,592.73 276.30,587.85 292.90,582.28 309.50,576.00 326.10,558.58" fill="none" stroke="#1614c4" stroke-width="2.0" stroke-linejoin="round"/>
<circle cx="243.10" cy="600.40" r="2.70" fill="#1614c4"/>
<circle cx="259.70" cy="592.73" r="2.70" fill="#1614c4"/>
<circle cx="276.30" cy="587.85" r="2.70" fill="#1614c4"/>
<circle cx="292.90" cy="582.28" r="2.70" fill="#1614c4"/>
<circle cx="309.50" cy="576.00" r="2.70" fill="#1614c4"/>
<circle cx="326.10" cy="558.58" r="2.70" fill="#1614c4"/>
<line x1="259.70" y1="592.73" x2="259.70" y2="591.34" stroke="#1e1ca8" stroke-width="1.1" />
<line x1="256.55" y1="592.73" x2="262.85" y2="592.73" stroke="#1e1ca8" stroke-width="1.1" />
<line x1="256.55" y1="591.34" x2="262.85" y2="591.34" stroke="#1e1ca8" stroke-width="1.1" />
<line x1="276.30" y1="586.11" x2="276.30" y2="579.14" stroke="#1e1ca8" stroke-width="1.1" />
<line x1="273.15" y1="586.11" x2="279.45" y2="586.11" stroke="#1e1ca8" stroke-width="1.1" />
<line x1="273.15" y1="579.14" x2="279.45" y2="579.14" stroke="#1e1ca8" stroke-width="1.1" />
<line x1="292.90" y1="576.49" x2="292.90" y2="561.16" stroke="#1e1ca8" stroke-width="1.1" />
<line x1="289.75" y1="576.49" x2="296.05" y2="576.49" stroke="#1e1ca8" stroke-width="1.1" />
<line x1="289.75" y1="561.16" x2="296.05" y2="561.16" stroke="#1e1ca8" stroke-width="1.1" />
<line x1="309.50" y1="557.88" x2="309.50" y2="543.94" stroke="#1e1ca8" stroke-width="1.1" />
<line x1="306.35" y1="557.88" x2="312.65" y2="557.88" stroke="#1e1ca8" stroke-width="1.1" />
<line x1="306.35" y1="543.94" x2="312.65" y2="543.94" stroke="#1e1ca8" stroke-width="1.1" />
<line x1="326.10" y1="535.23" x2="326.10" y2="498.29" stroke="#1e1ca8" stroke-width="1.1" />
<line x1="322.95" y1="535.23" x2="329.25" y2="535.23" stroke="#1e1ca8" stroke-width="1.1" />
<line x1="322.95" y1="498.29" x2="329.25" y2="498.29" stroke="#1e1ca8" stroke-width="1.1" />
<polyline points="243.10,600.40 259.70,592.04 276.30,582.63 292.90,568.83 309.50,550.91 326.10,516.76" fill="none" stroke="#1614c4" stroke-width="2.0" stroke-linejoin="round" stroke-dasharray="6.5,3"/>
<polygon points="243.10,603.30 246.00,598.23 240.20,598.23" fill="#1614c4"/>
<polygon points="259.70,594.94 262.60,589.86 256.80,589.86" fill="#1614c4"/>
<polygon points="276.30,585.53 279.20,580.45 273.40,580.45" fill="#1614c4"/>
<polygon points="292.90,571.73 295.80,566.65 290.00,566.65" fill="#1614c4"/>
<polygon points="309.50,553.81 312.40,548.74 306.60,548.74" fill="#1614c4"/>
<polygon points="326.10,519.66 329.00,514.59 323.20,514.59" fill="#1614c4"/>
<line x1="259.70" y1="585.07" x2="259.70" y2="579.49" stroke="#c8203a" stroke-width="1.1" />
<line x1="256.55" y1="585.07" x2="262.85" y2="585.07" stroke="#c8203a" stroke-width="1.1" />
<line x1="256.55" y1="579.49" x2="262.85" y2="579.49" stroke="#c8203a" stroke-width="1.1" />
<line x1="276.30" y1="573.22" x2="276.30" y2="559.28" stroke="#c8203a" stroke-width="1.1" />
<line x1="273.15" y1="573.22" x2="279.45" y2="573.22" stroke="#c8203a" stroke-width="1.1" />
<line x1="273.15" y1="559.28" x2="279.45" y2="559.28" stroke="#c8203a" stroke-width="1.1" />
<line x1="292.90" y1="555.10" x2="292.90" y2="548.12" stroke="#c8203a" stroke-width="1.1" />
<line x1="289.75" y1="555.10" x2="296.05" y2="555.10" stroke="#c8203a" stroke-width="1.1" />
<line x1="289.75" y1="548.12" x2="296.05" y2="548.12" stroke="#c8203a" stroke-width="1.1" />
<line x1="309.50" y1="550.22" x2="309.50" y2="526.52" stroke="#c8203a" stroke-width="1.1" />
<line x1="306.35" y1="550.22" x2="312.65" y2="550.22" stroke="#c8203a" stroke-width="1.1" />
<line x1="306.35" y1="526.52" x2="312.65" y2="526.52" stroke="#c8203a" stroke-width="1.1" />
<line x1="326.10" y1="525.82" x2="326.10" y2="487.49" stroke="#c8203a" stroke-width="1.1" />
<line x1="322.95" y1="525.82" x2="329.25" y2="525.82" stroke="#c8203a" stroke-width="1.1" />
<line x1="322.95" y1="487.49" x2="329.25" y2="487.49" stroke="#c8203a" stroke-width="1.1" />
<polyline points="243.10,600.40 259.70,582.28 276.30,566.25 292.90,551.61 309.50,538.37 326.10,506.65" fill="none" stroke="#dc1428" stroke-width="2.0" stroke-linejoin="round" stroke-dasharray="6.5,3"/>
<polygon points="243.10,597.50 246.00,602.57 240.20,602.57" fill="#dc1428"/>
<polygon points="259.70,579.38 262.60,584.45 256.80,584.45" fill="#dc1428"/>
<polygon points="276.30,563.35 279.20,568.42 273.40,568.42" fill="#dc1428"/>
<polygon points="292.90,548.71 295.80,553.78 290.00,553.78" fill="#dc1428"/>
<polygon points="309.50,535.47 312.40,540.54 306.60,540.54" fill="#dc1428"/>
<polygon points="326.10,503.75 329.00,508.83 323.20,508.83" fill="#dc1428"/>
<line x1="259.70" y1="585.07" x2="259.70" y2="579.49" stroke="#c8203a" stroke-width="1.1" />
<line x1="256.55" y1="585.07" x2="262.85" y2="585.07" stroke="#c8203a" stroke-width="1.1" />
<line x1="256.55" y1="579.49" x2="262.85" y2="579.49" stroke="#c8203a" stroke-width="1.1" />
<line x1="276.30" y1="573.91" x2="276.30" y2="565.55" stroke="#c8203a" stroke-width="1.1" />
<line x1="273.15" y1="573.91" x2="279.45" y2="573.91" stroke="#c8203a" stroke-width="1.1" />
<line x1="273.15" y1="565.55" x2="279.45" y2="565.55" stroke="#c8203a" stroke-width="1.1" />
<line x1="292.90" y1="555.10" x2="292.90" y2="548.12" stroke="#c8203a" stroke-width="1.1" />
<line x1="289.75" y1="555.10" x2="296.05" y2="555.10" stroke="#c8203a" stroke-width="1.1" />
<line x1="289.75" y1="548.12" x2="296.05" y2="548.12" stroke="#c8203a" stroke-width="1.1" />
<line x1="309.50" y1="562.76" x2="309.50" y2="539.06" stroke="#c8203a" stroke-width="1.1" />
<line x1="306.35" y1="562.76" x2="312.65" y2="562.76" stroke="#c8203a" stroke-width="1.1" />
<line x1="306.35" y1="539.06" x2="312.65" y2="539.06" stroke="#c8203a" stroke-width="1.1" />
<line x1="326.10" y1="536.28" x2="326.10" y2="504.21" stroke="#c8203a" stroke-width="1.1" />
<line x1="322.95" y1="536.28" x2="329.25" y2="536.28" stroke="#c8203a" stroke-width="1.1" />
<line x1="322.95" y1="504.21" x2="329.25" y2="504.21" stroke="#c8203a" stroke-width="1.1" />
<polyline points="243.10,600.40 259.70,582.28 276.30,569.73 292.90,551.61 309.50,550.91 326.10,520.25" fill="none" stroke="#dc1428" stroke-width="2.0" stroke-linejoin="round"/>
<circle cx="243.10" cy="600.40" r="2.70" fill="#dc1428"/>
<circle cx="259.70" cy="582.28" r="2.70" fill="#dc1428"/>
<circle cx="276.30" cy="569.73" r="2.70" fill="#dc1428"/>
<circle cx="292.90" cy="551.61" r="2.70" fill="#dc1428"/>
<circle cx="309.50" cy="550.91" r="2.70" fill="#dc1428"/>
<circle cx="326.10" cy="520.25" r="2.70" fill="#dc1428"/>
<circle cx="321.90" cy="483.20" r="1.3" fill="#1e2424"/>
<circle cx="326.10" cy="483.20" r="1.3" fill="#1e2424"/>
<circle cx="330.30" cy="483.20" r="1.3" fill="#1e2424"/>
<line x1="360.00" y1="477.20" x2="370.50" y2="477.20" stroke="#dc1428" stroke-width="1.3" />
<circle cx="365.20" cy="477.20" r="2.56" fill="#dc1428"/>
<text x="374.00" y="480.50" font-size="9.35" text-anchor="start" font-weight="normal" fill="#cc2230" stroke="#cc2230" >MC57+IgG</text>
<line x1="360.00" y1="488.30" x2="370.50" y2="488.30" stroke="#dc1428" stroke-width="1.3" />
<polygon points="365.20,485.11 368.39,490.69 362.01,490.69" fill="#dc1428"/>
<text x="374.00" y="491.60" font-size="9.35" text-anchor="start" font-weight="normal" fill="#cc2230" stroke="#cc2230" >MC57+FR70</text>
<line x1="360.00" y1="502.70" x2="370.50" y2="502.70" stroke="#1614c4" stroke-width="1.3" />
<circle cx="365.20" cy="502.70" r="2.56" fill="#1614c4"/>
<text x="374.00" y="506.00" font-size="9.35" text-anchor="start" font-weight="normal" fill="#2222b4" stroke="#2222b4" >MC57-CD27-trunc+IgG</text>
<line x1="360.00" y1="516.70" x2="370.50" y2="516.70" stroke="#1614c4" stroke-width="1.3" />
<polygon points="365.20,519.89 368.39,514.31 362.01,514.31" fill="#1614c4"/>
<text x="374.00" y="520.00" font-size="9.35" text-anchor="start" font-weight="normal" fill="#2222b4" stroke="#2222b4" >MC57-CD27-trunc+FR70</text>
<line x1="351.20" y1="501.50" x2="351.20" y2="517.10" stroke="#333" stroke-width="1.5" />
<line x1="347.40" y1="501.50" x2="355.00" y2="501.50" stroke="#333" stroke-width="1.5" />
<line x1="347.40" y1="517.10" x2="355.00" y2="517.10" stroke="#333" stroke-width="1.5" />
</svg></div></body></html>
